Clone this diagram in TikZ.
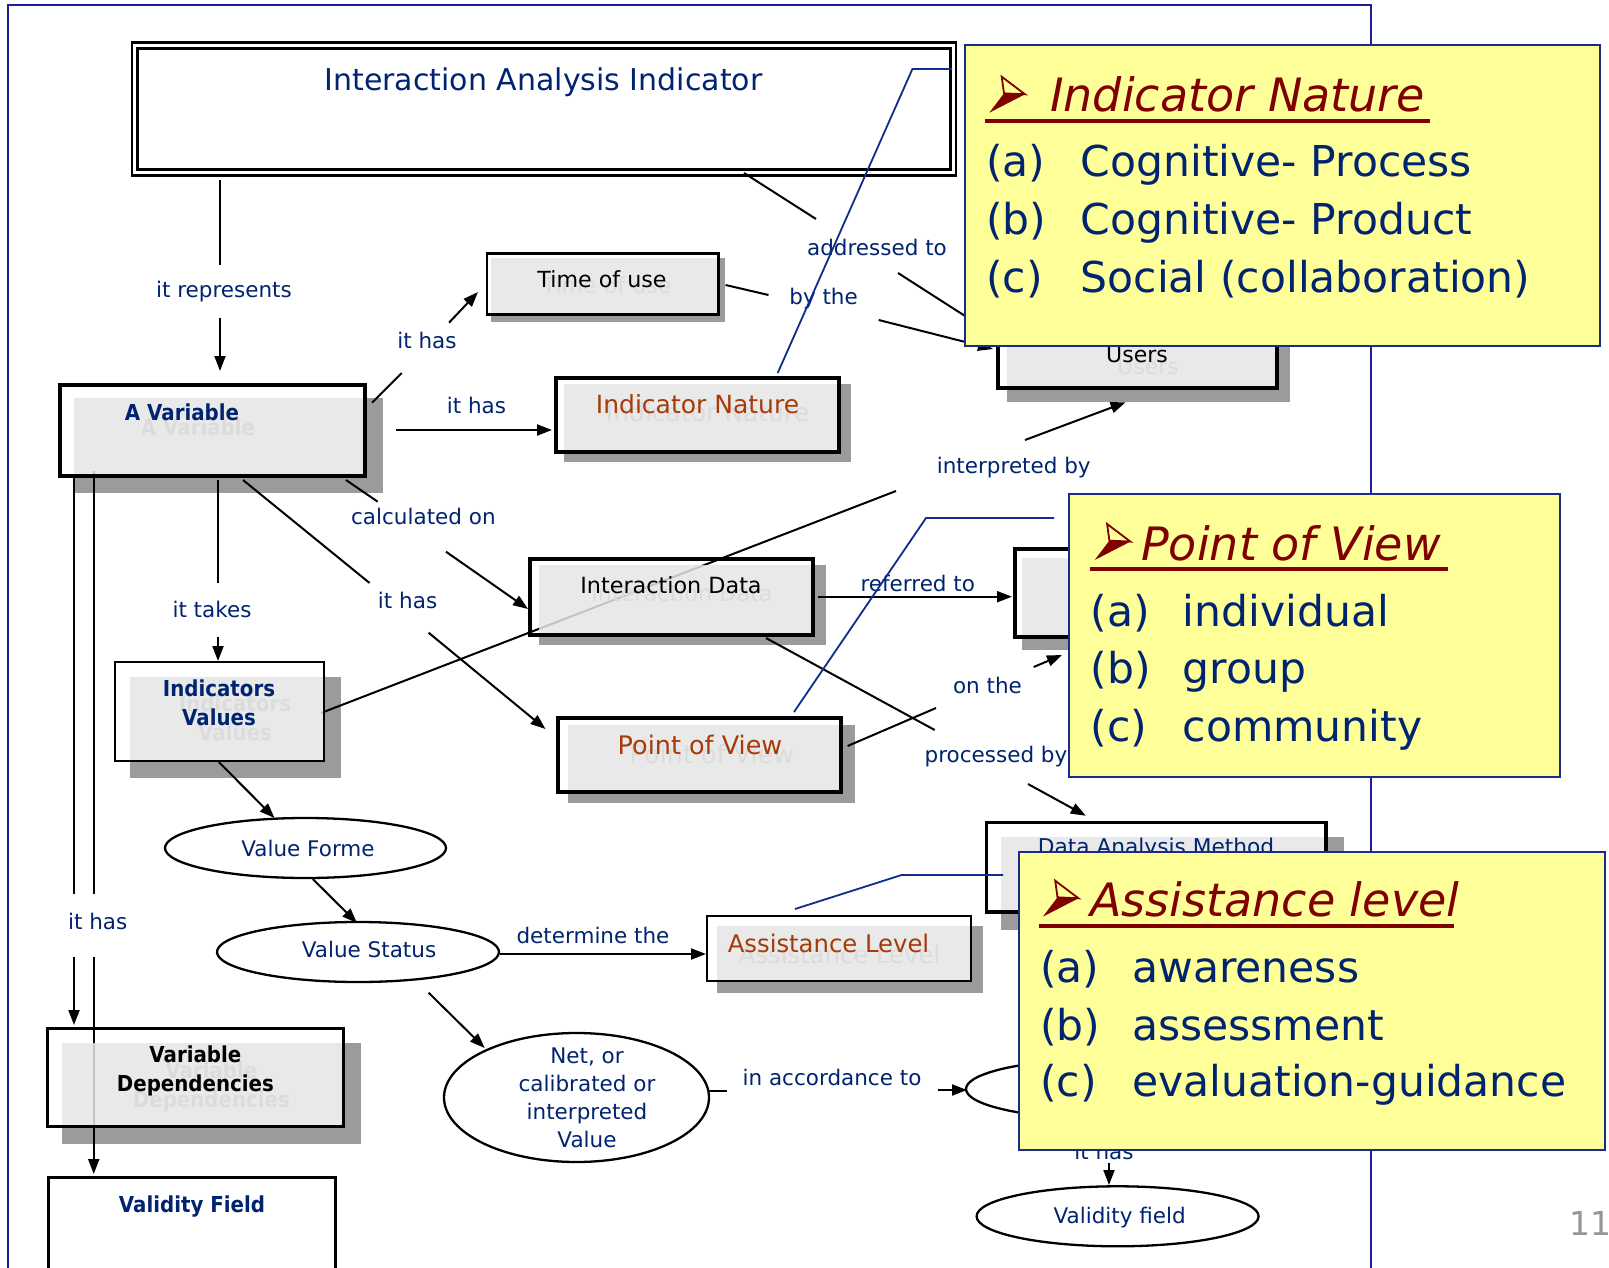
\documentclass[tikz,border=0pt]{standalone}
\usepackage{fontspec}
\setmainfont{DejaVu Sans}
\newfontfamily\bnar[FakeStretch=0.9]{DejaVu Sans}
\usetikzlibrary{arrows.meta,shapes.geometric}
\definecolor{navy}{RGB}{0,36,112}
\definecolor{brownt}{RGB}{166,58,8}
\definecolor{dred}{RGB}{128,0,0}
\definecolor{yfill}{RGB}{255,255,153}
\definecolor{yline}{RGB}{24,44,136}
\definecolor{framec}{RGB}{30,30,150}
\definecolor{lgray}{RGB}{230,230,230}
\definecolor{sgray}{RGB}{155,155,155}
\definecolor{ghostc}{RGB}{220,220,220}
\definecolor{cblue}{RGB}{16,44,140}
\definecolor{pgray}{RGB}{150,150,150}
\newcommand\fsz[1]{\fontsize{#1}{#1}\selectfont}
\newcommand\boxbase[6]{%
  \fill[sgray] ({#1+#5},{#2+#6}) rectangle ({#3+#5},{#4+#6});
  \fill[white] (#1,#2) rectangle (#3,#4);}
\newcommand\boxface[7]{%
  \fill[lgray,opacity=0.85] ({#1+#5},{#2+#6}) rectangle (#3,#4);
  \draw[line width=#7pt] ({#1+#7/2},{#2+#7/2}) rectangle ({#3-#7/2},{#4-#7/2});}
\begin{document}
\begin{tikzpicture}[x=1pt,y=-1pt,
  lbl/.style={inner sep=0pt, text=navy, font=\fsz{21.5}},
  btxt/.style={inner sep=0pt},
  ghost/.style={inner sep=0pt, text=ghostc},
  ln/.style={line width=2pt},
  arr/.style={line width=2pt, -{Triangle[length=15pt,width=11pt]}},
  ell/.style={ellipse, draw, line width=2.3pt, fill=white, inner sep=0pt},
  callout/.style={draw=cblue, line width=1.8pt},
  ybox/.style={fill=yfill, draw=yline, line width=2pt},
  ytitle/.style={anchor=base west, inner sep=0pt, text=dred, font=\itshape\fsz{46}},
  yitem/.style={anchor=base west, inner sep=0pt, text=navy, font=\fsz{42.5}},
  uline/.style={draw=dred, line width=4pt},
  tarrow/.pic={
    \fill[dred] (0,0)--(35.7,-18.4)--(14.7,-19.4)--cycle;
    \draw[dred, line width=1.8pt, line join=miter] (12.4,-36)--(35.7,-18.4)--(14.7,-19.4)--cycle;
  }]
\useasboundingbox (0,0) rectangle (1609,1268);
\fill[white] (0,0) rectangle (1609,1268);
% frame
\draw[framec, line width=2pt] (7.5,1268) -- (7.5,5) -- (1371,5) -- (1371,1268);
% top box
\fill[white] (132,42.5) rectangle (956,175.5);
\draw[line width=2.2pt] (132,42.5) rectangle (956,175.5);
\draw[line width=3pt] (137.5,48.5) rectangle (950.5,169.5);
% box bases
\boxbase{58}{383}{367}{478}{16}{15}
\boxbase{485.6}{252}{719.5}{316}{5}{6}
\boxbase{554}{375.7}{841}{454}{10}{8}
\boxbase{995.5}{318}{1279}{390}{11}{12}
\boxbase{528}{557}{815}{637}{11}{8}
\boxbase{556}{716}{843}{794}{12}{9}
\boxbase{114}{661}{325}{762}{16}{16}
\boxbase{46}{1027}{345}{1128}{16}{16}
\boxbase{705.6}{915}{972}{982}{11}{11}
\boxbase{984.6}{820.7}{1328}{914}{16}{16}
\boxbase{1013}{547}{1300}{639}{9}{11}
\fill[white] (47,1176) rectangle (337,1290);
% ellipses
\node[ell, minimum width=281pt, minimum height=60pt] (vforme) at (305.5,848) {};
\node[ell, minimum width=282pt, minimum height=60pt] (vstatus) at (358,952) {};
\node[ell, minimum width=265pt, minimum height=129pt] (netv) at (576.5,1097.5) {};
\node[ell, minimum width=280pt, minimum height=60pt] (accell) at (1106,1089) {};
\node[ell, minimum width=282pt, minimum height=60pt] (vfell) at (1117.6,1216.3) {};
% connector points
\coordinate (a1) at (220,180); \coordinate (a2) at (220,265);
\coordinate (a3) at (220,318); \coordinate (a4) at (220,371);
\coordinate (b1) at (372,402.7); \coordinate (b2) at (401.7,373);
\coordinate (b3) at (449,322.7); \coordinate (b4) at (478,292);
\coordinate (c1) at (396,430); \coordinate (c2) at (552,430);
\coordinate (d1) at (744,173); \coordinate (d2) at (816,219);
\coordinate (d3) at (898,273); \coordinate (d4) at (990,332);
\coordinate (e1) at (725.6,285); \coordinate (e2) at (768.5,295);
\coordinate (e3) at (878.7,320); \coordinate (e4) at (993,349);
\coordinate (f1) at (346,480); \coordinate (f2) at (377.7,501.7);
\coordinate (f3) at (446,551.7); \coordinate (f4) at (528,609);
\coordinate (g1) at (243,480); \coordinate (g2) at (369.6,583);
\coordinate (g3) at (428.6,632.7); \coordinate (g4) at (545.5,729);
\coordinate (h1) at (218,480); \coordinate (h2) at (218,583);
\coordinate (h3) at (218,636.7); \coordinate (h4) at (218,661);
\coordinate (i1) at (74,478); \coordinate (i2) at (74,894);
\coordinate (i3) at (74,957); \coordinate (i4) at (74,1025);
\coordinate (j1) at (93.75,470.7); \coordinate (j2) at (93.75,894);
\coordinate (j3) at (93.75,957); \coordinate (j4) at (93.75,1174);
\coordinate (k1) at (321,713); \coordinate (k2) at (896,491);
\coordinate (k3) at (1025,440); \coordinate (k4) at (1125.6,402.3);
\coordinate (m1) at (818,596.7); \coordinate (m2) at (1012,596.7);
\coordinate (n1) at (847.6,746); \coordinate (n2) at (936,708);
\coordinate (n3) at (1033.7,667); \coordinate (n4) at (1062,655);
\coordinate (o1) at (766,638); \coordinate (o2) at (934.7,730);
\coordinate (o3) at (1028,784); \coordinate (o4) at (1085.8,815.7);
\coordinate (p1) at (218.75,762); \coordinate (p2) at (274.5,818);
\coordinate (q1) at (312.8,879); \coordinate (q2) at (357,923);
\coordinate (s1) at (500,954); \coordinate (s2) at (706,954);
\coordinate (t1) at (428.6,992.7); \coordinate (t2) at (484.7,1048);
\coordinate (u1) at (709,1090.5); \coordinate (u2) at (727,1090.5);
\coordinate (u3) at (937.6,1090); \coordinate (u4) at (967,1090);
\coordinate (v1) at (1109,1163); \coordinate (v2) at (1109,1185);
% connectors
\draw[ln] (a1)--(a2); \draw[arr] (a3)--(a4);
\draw[ln] (b1)--(b2); \draw[arr] (b3)--(b4);
\draw[arr] (c1)--(c2);
\draw[ln] (d1)--(d2); \draw[ln] (d3)--(d4);
\draw[ln] (e1)--(e2); \draw[arr] (e3)--(e4);
\draw[ln] (f1)--(f2); \draw[arr] (f3)--(f4);
\draw[ln] (g1)--(g2); \draw[arr] (g3)--(g4);
\draw[ln] (h1)--(h2); \draw[arr] (h3)--(h4);
\draw[ln] (i1)--(i2); \draw[arr] (i3)--(i4);
\draw[ln] (j1)--(j2); \draw[arr] (j3)--(j4);
\draw[ln] (k1)--(k2); \draw[arr] (k3)--(k4);
\draw[arr] (m1)--(m2);
\draw[ln] (n1)--(n2); \draw[arr] (n3)--(n4);
\draw[ln] (o1)--(o2); \draw[arr] (o3)--(o4);
\draw[arr] (p1)--(p2);
\draw[arr] (q1)--(q2);
\draw[arr] (s1)--(s2);
\draw[arr] (t1)--(t2);
\draw[ln] (u1)--(u2); \draw[arr] (u3)--(u4);
\draw[arr] (v1)--(v2);
% box faces
\boxface{58}{383}{367}{478}{16}{15}{4}
\boxface{485.6}{252}{719.5}{316}{5}{6}{2.7}
\boxface{554}{375.7}{841}{454}{10}{8}{4}
\boxface{995.5}{318}{1279}{390}{11}{12}{4}
\boxface{528}{557}{815}{637}{11}{8}{4}
\boxface{556}{716}{843}{794}{12}{9}{4}
\boxface{114}{661}{325}{762}{16}{16}{2.3}
\boxface{46}{1027}{345}{1128}{16}{16}{2.7}
\boxface{705.6}{915}{972}{982}{11}{11}{2}
\boxface{984.6}{820.7}{1328}{914}{16}{16}{3.6}
\boxface{1013}{547}{1300}{639}{9}{11}{3.6}
\draw[line width=3.3pt] (48.6,1177.6) rectangle (335.4,1290);
% ghost texts
\node[ghost, font=\bnar\bfseries\fsz{22}] at (198,427) {A Variable};
\node[ghost, font=\fsz{22.2}] at (607,285) {Time of use};
\node[ghost, font=\fsz{25}] at (707.5,412.5) {Indicator Nature};
\node[ghost, font=\fsz{22}] at (1148,366.5) {Users};
\node[ghost, font=\fsz{22.3}] at (682,593) {Interaction Data};
\node[ghost, font=\fsz{25.5}] at (712,753.5) {Point of View};
\node[ghost, font=\bnar\bfseries\fontsize{22}{28.5}\selectfont, align=center] at (235,718) {Indicators\\Values};
\node[ghost, font=\bnar\bfseries\fontsize{22}{29}\selectfont, align=center] at (211.4,1087) {Variable\\Dependencies};
\node[ghost, font=\fsz{24.3}] at (839.5,954) {Assistance Level};
% box texts
\node[btxt, text=navy, font=\fsz{30}] (iai) at (543.5,82) {Interaction Analysis Indicator};
\node[btxt, font=\fsz{22.2}] (tou) at (602,279) {Time of use};
\node[btxt, text=navy, font=\bnar\bfseries\fsz{22}] (avar) at (182,412) {A Variable};
\node[btxt, text=brownt, font=\fsz{25}] (inat) at (697.5,404.5) {Indicator Nature};
\node[btxt, font=\fsz{22}] (users) at (1137,354.5) {Users};
\node[btxt, font=\fsz{22.3}] (idata) at (671,585) {Interaction Data};
\node[btxt, text=brownt, font=\fsz{25.5}] (pov) at (700,744.5) {Point of View};
\node[btxt, text=navy, font=\bnar\bfseries\fontsize{22}{28.5}\selectfont, align=center] (ivals) at (219,703) {Indicators\\Values};
\node[btxt, font=\bnar\bfseries\fontsize{22}{29}\selectfont, align=center] (vdep) at (195.4,1071) {Variable\\Dependencies};
\node[btxt, text=navy, font=\bnar\bfseries\fsz{22}] (vfld) at (192,1207) {Validity Field};
\node[btxt, text=brownt, font=\fsz{24.3}] (alev) at (828.5,943) {Assistance Level};
\node[btxt, text=navy, font=\fsz{21.7}, anchor=base] (dam) at (1156,854) {Data Analysis Method};
% ellipse texts
\node[lbl] (tvforme) at (308,848.5) {Value Forme};
\node[lbl] (tvstatus) at (369,949.5) {Value Status};
\node[lbl, font=\fontsize{21.5}{28}\selectfont, align=center] (tnetv) at (587,1098) {Net, or\\calibrated or\\interpreted\\Value};
\node[lbl] (tvfell) at (1119.7,1217.5) {Validity field};
% link labels
\node[lbl] (lrep) at (224,292) {it represents};
\node[lbl] (lhas1) at (427,340) {it has};
\node[lbl] (lhas2) at (476.4,405) {it has};
\node[lbl] (laddr) at (877,247) {addressed to};
\node[lbl] (lby) at (823.6,299) {by the};
\node[lbl] (lcalc) at (423.4,516.7) {calculated on};
\node[lbl] (lhas3) at (407.6,600) {it has};
\node[lbl] (ltakes) at (212,609) {it takes};
\node[lbl] (linterp) at (1013.8,468) {interpreted by};
\node[lbl] (lref) at (917.8,583) {referred to};
\node[lbl] (lon) at (987.5,685) {on the};
\node[lbl] (lproc) at (996,756.7) {processed by};
\node[lbl] (lhas4) at (97.7,921.7) {it has};
\node[lbl] (ldet) at (593,935) {determine the};
\node[lbl] (lacc) at (832,1077) {in accordance to};
\node[lbl] (lhas5) at (1104,1151) {it has};
% callout lines
\coordinate (ca1) at (777.7,373); \coordinate (ca2) at (912.4,69); \coordinate (ca3) at (952,69);
\coordinate (cb1) at (794,712); \coordinate (cb2) at (926,518); \coordinate (cb3) at (1054,518);
\coordinate (cc1) at (795,909); \coordinate (cc2) at (901.6,875); \coordinate (cc3) at (1003,875);
\draw[callout] (ca1)--(ca2)--(ca3);
\draw[callout] (cb1)--(cb2)--(cb3);
\draw[callout] (cc1)--(cc2)--(cc3);
% yellow box 1
\draw[ybox] (964.7,45) rectangle (1600,345.7);
\pic at (989.3,112.7) {tarrow};
\node[ytitle] (y1t) at (1050,112) {Indicator Nature};
\draw[uline] (985,120.7) -- (1430,120.7);
\node[yitem] (y1a) at (986,177) {(a)};
\node[yitem] (y1aa) at (1080.5,177) {Cognitive- Process};
\node[yitem] (y1b) at (986,235) {(b)};
\node[yitem] (y1bb) at (1080.5,235) {Cognitive- Product};
\node[yitem] (y1c) at (986,292) {(c)};
\node[yitem] (y1cc) at (1080.5,292) {Social (collaboration)};
% yellow box 2
\draw[ybox] (1069,494) rectangle (1560,777);
\pic at (1094.7,560) {tarrow};
\node[ytitle] (y2t) at (1141,560) {Point of View};
\draw[uline] (1090,569) -- (1448,569);
\node[yitem] (y2a) at (1090.5,626) {(a)};
\node[yitem] (y2aa) at (1182.5,626) {individual};
\node[yitem] (y2b) at (1090.5,683) {(b)};
\node[yitem] (y2bb) at (1182.5,683) {group};
\node[yitem] (y2c) at (1090.5,741) {(c)};
\node[yitem] (y2cc) at (1182.5,741) {community};
% yellow box 3
\draw[ybox] (1019,851.7) rectangle (1605,1150);
\pic at (1042.8,916.7) {tarrow};
\node[ytitle] (y3t) at (1090,916.7) {Assistance level};
\draw[uline] (1039,926) -- (1454,926);
\node[yitem] (y3a) at (1040,982.7) {(a)};
\node[yitem] (y3aa) at (1132,982.7) {awareness};
\node[yitem] (y3b) at (1040,1040) {(b)};
\node[yitem] (y3bb) at (1132,1040) {assessment};
\node[yitem] (y3c) at (1040,1096.7) {(c)};
\node[yitem] (y3cc) at (1132,1096.7) {evaluation-guidance};
% page number
\node[anchor=base west, inner sep=0pt, text=pgray, font=\fsz{33}] (pnum) at (1569,1235) {11};
\end{tikzpicture}
\end{document}
